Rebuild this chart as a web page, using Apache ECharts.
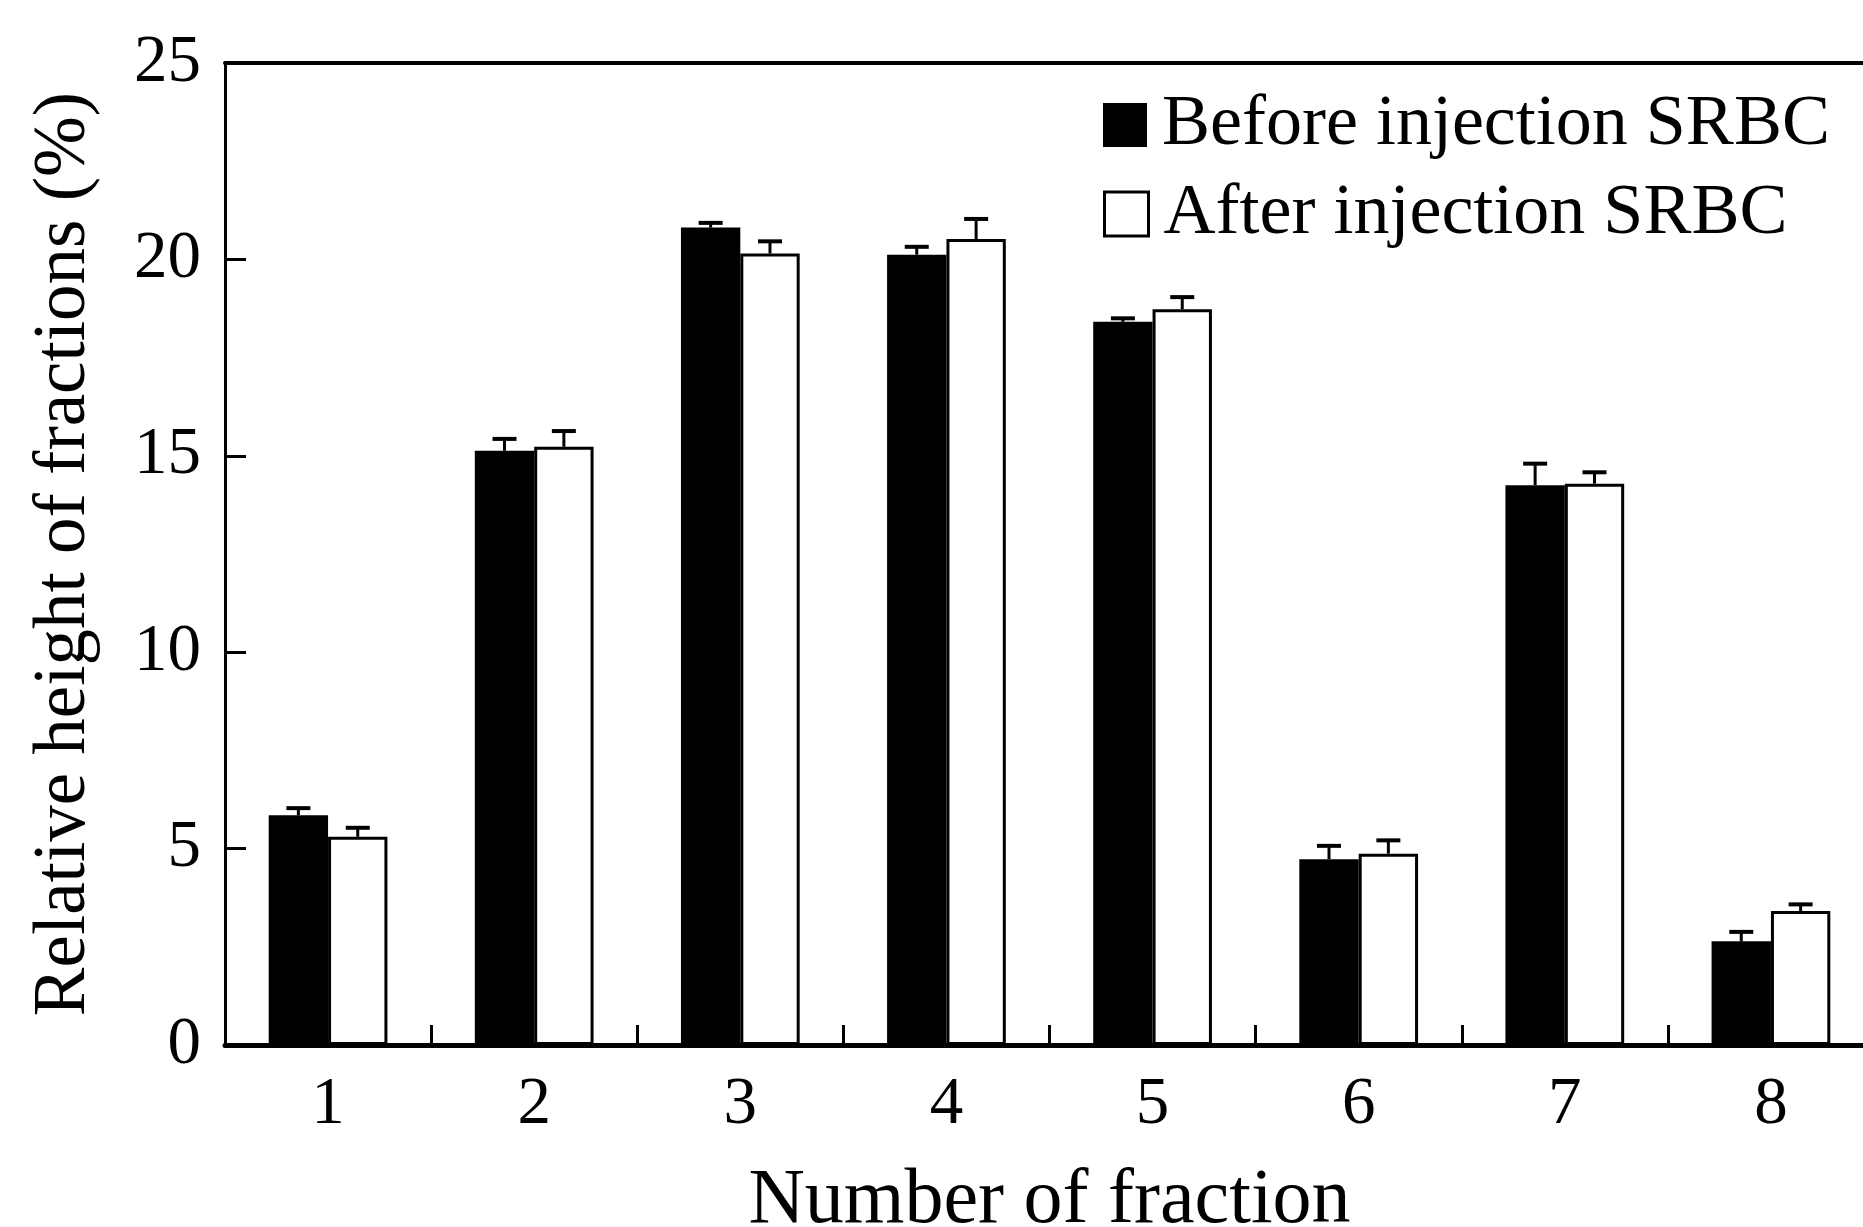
<!DOCTYPE html>
<html>
<head>
<meta charset="utf-8">
<script src="https://cdn.jsdelivr.net/npm/echarts@6/dist/echarts.min.js"></script>
<style>
  html, body { margin: 0; padding: 0; background: #fff; }
  #chart { width: 1863px; height: 1227px; }
</style>
</head>
<body>
<div id="chart"></div>
<script>
const fractions = ["1", "2", "3", "4", "5", "6", "7", "8"];
const beforeMean = [5.85, 15.13, 20.81, 20.12, 18.41, 4.73, 14.25, 2.64];
const beforeErr = [0.18, 0.30, 0.12, 0.20, 0.09, 0.34, 0.55, 0.24];
const afterMean = [5.30, 15.23, 20.15, 20.52, 18.73, 4.87, 14.29, 3.41];
const afterErr = [0.23, 0.40, 0.31, 0.51, 0.31, 0.34, 0.29, 0.17];

const serif = "Liberation Serif";
const barFrac = 0.288; // bar width as share of the category band
const tickLen = 21;

const chart = echarts.init(document.getElementById("chart"));

// one-sided (upward) error bars, shifted onto the left/right bar of each group
function errorSeries(name, mean, err, shift) {
  return {
    name: name + " err",
    type: "custom",
    z: 5,
    silent: true,
    encode: { x: 0, y: 2 },
    data: mean.map((m, i) => [i, m, m + err[i]]),
    renderItem: (params, api) => {
      const top = api.coord([api.value(0), api.value(2)]);
      const base = api.coord([api.value(0), api.value(1)]);
      const band = api.size([1, 0])[0];
      const x = top[0] + shift * band * barFrac / 2;
      const cap = 12;
      return {
        type: "group",
        children: [
          { type: "line", shape: { x1: x, y1: base[1], x2: x, y2: top[1] }, style: { stroke: "#000", lineWidth: 3 } },
          { type: "line", shape: { x1: x - cap, y1: top[1], x2: x + cap, y2: top[1] }, style: { stroke: "#000", lineWidth: 4 } },
        ],
      };
    },
  };
}

const legendText = { fontFamily: serif, fontSize: 72, color: "#000", padding: [0, 0, 0, 10] };

chart.setOption({
  animation: false,
  backgroundColor: "#fff",
  grid: { left: 225, top: 63, bottom: 182, right: -11, outerBoundsMode: "none", containLabel: false },
  legend: [
    {
      left: 1098,
      top: 84,
      itemWidth: 44,
      itemHeight: 44,
      textStyle: legendText,
      data: [{ name: "Before injection SRBC", icon: "rect", itemStyle: { color: "#000", borderWidth: 0 } }],
    },
    {
      left: 1098,
      top: 173,
      itemWidth: 44,
      itemHeight: 44,
      textStyle: legendText,
      data: [{ name: "After injection SRBC", icon: "rect", itemStyle: { color: "#fff", borderColor: "#000", borderWidth: 3 } }],
    },
  ],
  xAxis: [
    {
      type: "category",
      data: fractions,
      boundaryGap: true,
      name: "Number of fraction",
      nameLocation: "middle",
      nameGap: 118,
      nameTextStyle: { fontFamily: serif, fontSize: 78, color: "#000" },
      axisLine: { onZero: false, lineStyle: { color: "#000", width: 5 } },
      axisTick: { show: true, inside: true, length: 20, lineStyle: { color: "#000", width: 3 } },
      axisLabel: { fontFamily: serif, fontSize: 67, color: "#000", margin: 27 },
      splitLine: { show: false },
    },
    {
      // top frame line
      type: "category",
      data: fractions,
      position: "top",
      axisLine: { onZero: false, lineStyle: { color: "#000", width: 4 } },
      axisTick: { show: false },
      axisLabel: { show: false },
    },
  ],
  yAxis: [
    {
      type: "value",
      min: 0,
      max: 25,
      interval: 5,
      name: "Relative height of fractions (%)",
      nameLocation: "middle",
      nameGap: 124,
      nameTextStyle: { fontFamily: serif, fontSize: 73, color: "#000" },
      axisLine: { show: true, onZero: false, lineStyle: { color: "#000", width: 3 } },
      axisTick: { show: false },
      axisLabel: { fontFamily: serif, fontSize: 67, color: "#000", margin: 24 },
      splitLine: { show: false },
    },
    {
      // inward ticks: a twin axis shifted right by the tick length, ticks pointing back to the frame
      type: "value",
      min: 0,
      max: 25,
      interval: 5,
      position: "left",
      offset: -tickLen,
      axisLine: { show: false, onZero: false },
      axisTick: { show: true, inside: false, length: tickLen, lineStyle: { color: "#000", width: 3 } },
      axisLabel: { show: false },
      splitLine: { show: false },
    },
  ],
  series: [
    {
      name: "Before injection SRBC",
      type: "bar",
      data: beforeMean,
      barWidth: (barFrac * 100) + "%",
      barGap: "0%",
      itemStyle: { color: "#000", borderColor: "#000", borderWidth: 0 },
    },
    {
      name: "After injection SRBC",
      type: "bar",
      data: afterMean,
      barWidth: (barFrac * 100) + "%",
      barGap: "0%",
      itemStyle: { color: "#fff", borderColor: "#000", borderWidth: 3 },
    },
    errorSeries("Before injection SRBC", beforeMean, beforeErr, -1),
    errorSeries("After injection SRBC", afterMean, afterErr, 1),
  ],
});

window.addEventListener("resize", () => chart.resize());
</script>
</body>
</html>
